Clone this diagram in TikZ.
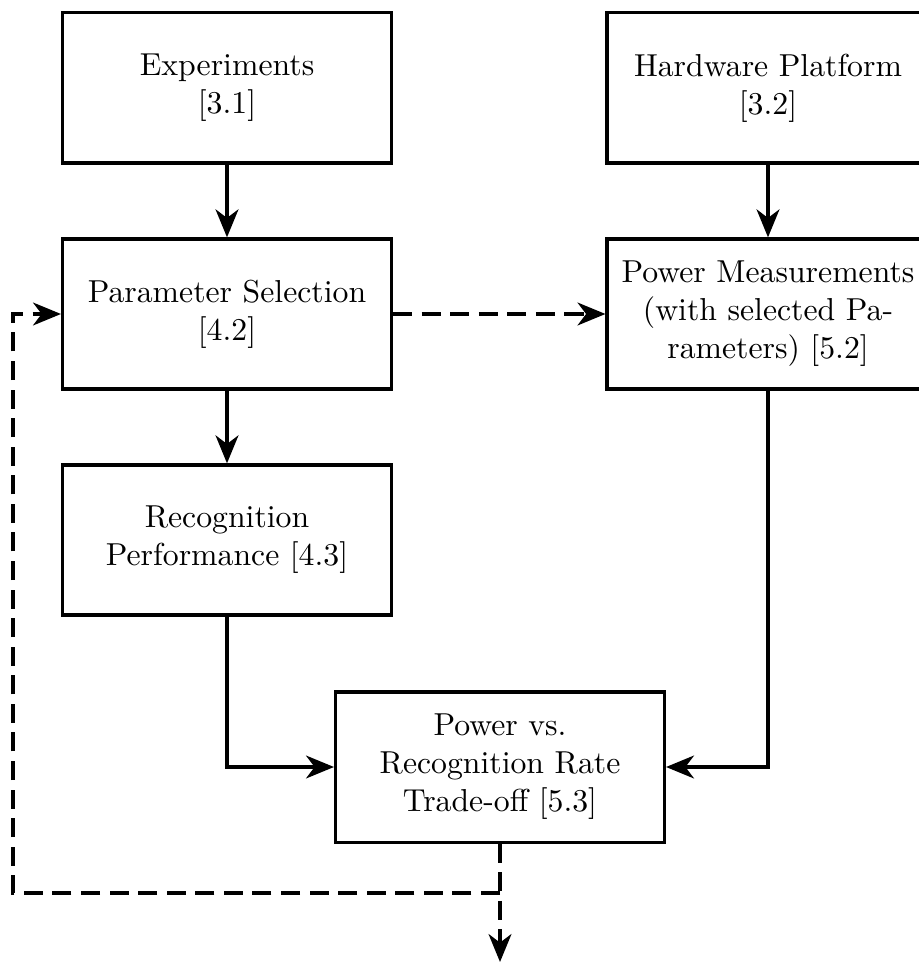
\documentclass[tikz,border=0pt]{standalone}
\usetikzlibrary{arrows.meta}
\begin{document}
\begin{tikzpicture}[x=0.315pt,y=-0.315pt,
  box/.style={draw,line width=1pt,align=center,minimum width=103.6pt,minimum height=47.3pt,inner sep=0pt},
  sidebox/.style={box,minimum width=101.4pt},
  flow/.style={line width=1.05pt,-{Stealth[length=8.8pt,width=7.2pt,inset=2.7pt]}},
  loop/.style={flow,dash pattern=on 6pt off 3pt}]
\useasboundingbox (0,0) rectangle (918,963);

% boxes
\node[box] (exp) at (227,88) {Experiments\\{[3.1]}};
\node[sidebox] (hw) at (768,88) {Hardware Platform\\{[3.2]}};
\node[box] (par) at (227,314) {Parameter Selection\\{[4.2]}};
\node[sidebox] (pm) at (768,314) {Power Measurements\\(with selected Pa-\\rameters) [5.2]};
\node[box] (rec) at (227,540) {Recognition\\Performance [4.3]};
\node[box] (tr) at (500,767) {Power vs.\\Recognition Rate\\Trade-off [5.3]};

% helper points of the feedback loop
\coordinate (fork) at (500,893);
\coordinate (lb) at (13,893);
\coordinate (out) at (500,962);

% solid flow
\draw[flow] (exp) -- (par);
\draw[flow] (hw) -- (pm);
\draw[flow] (par) -- (rec);
\draw[flow] (rec.south) |- (tr.west);
\draw[flow] (pm.south) |- (tr.east);

% dashed flow
\draw[loop] (par) -- (pm);
\draw[loop] (tr.south) -- (out);
\draw[loop] (fork) -- (lb) |- (par.west);
\end{tikzpicture}
\end{document}
